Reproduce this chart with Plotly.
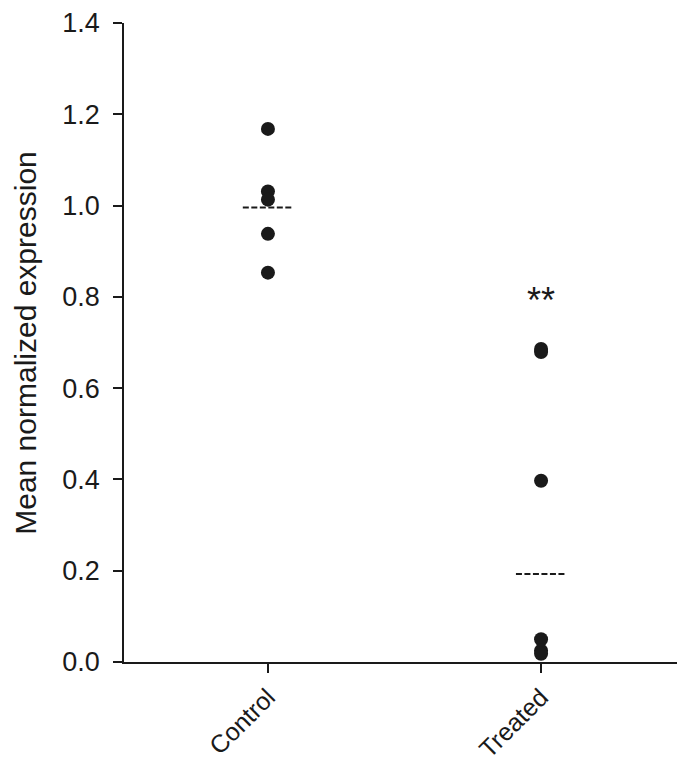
import plotly.graph_objects as go

categories = ["Control", "Treated"]
control_values = [1.168, 1.031, 1.013, 0.938, 0.853]
treated_values = [0.686, 0.679, 0.397, 0.050, 0.025, 0.018]
group_means = [0.996, 0.193]
significance = ["", "**"]
y_ticks = [0.0, 0.2, 0.4, 0.6, 0.8, 1.0, 1.2, 1.4]
y_title = "Mean normalized expression"

font = "Liberation Sans, Arial, sans-serif"
ink = "#1a1a1a"
fig = go.Figure()

for i, vals in enumerate([control_values, treated_values]):
    fig.add_trace(go.Scatter(
        x=[i] * len(vals), y=vals, mode="markers",
        marker=dict(color=ink, size=14), showlegend=False, cliponaxis=False))

for i, m in enumerate(group_means):
    fig.add_trace(go.Scatter(
        x=[i - 0.092, i + 0.092], y=[m, m], mode="lines",
        line=dict(color=ink, width=2, dash="6px,2.5px"), showlegend=False))

for i, s in enumerate(significance):
    if s:
        fig.add_annotation(x=i, y=0.793, text=s, showarrow=False,
                           font=dict(family=font, size=36, color=ink))

fig.add_annotation(xref="paper", yref="paper", x=-0.176, y=0.5, text=y_title,
                   textangle=-90, showarrow=False, xanchor="center", yanchor="middle",
                   font=dict(family=font, size=30, color=ink))

fig.update_layout(
    width=685, height=756,
    margin=dict(l=116, r=8, t=15, b=102),
    plot_bgcolor="white", paper_bgcolor="white",
    font=dict(family=font, color=ink),
    xaxis=dict(range=[-0.527, 1.527], tickvals=[0, 1], ticktext=categories,
               tickangle=-45, showgrid=False, zeroline=False, automargin=False,
               showline=True, linecolor=ink, linewidth=1.5,
               ticks="outside", ticklen=9, tickwidth=1.5, tickcolor=ink,
               tickfont=dict(size=25), ticklabeloverflow="allow"),
    yaxis=dict(range=[0, 1.4], tickvals=y_ticks,
               ticktext=[f"{v:.1f}" for v in y_ticks],
               showgrid=False, zeroline=False, automargin=False,
               showline=True, linecolor=ink, linewidth=1.5,
               ticks="outside", ticklen=9, tickwidth=1.5, tickcolor=ink,
               tickfont=dict(size=27), ticklabelstandoff=8,
               ticklabeloverflow="allow"),
)

fig.write_html("out.html")
